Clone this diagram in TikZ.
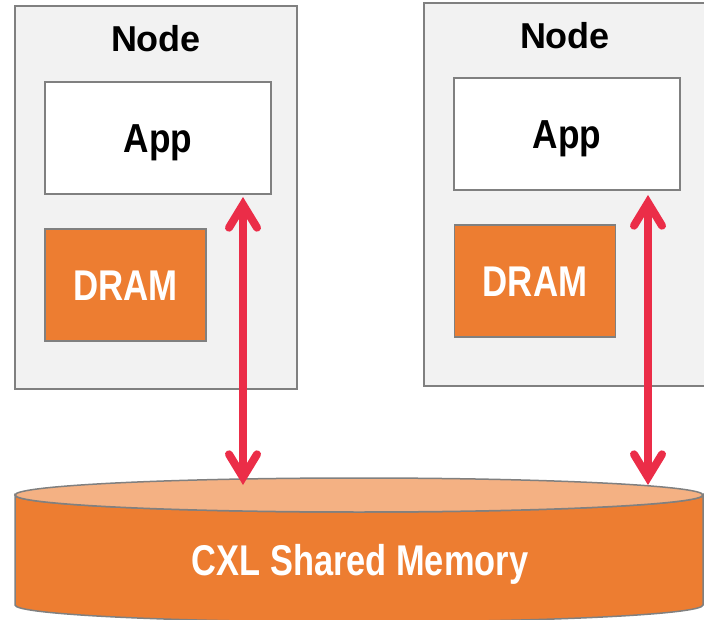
\documentclass[tikz,border=0pt]{standalone}
\usepackage{fontspec}
\setmainfont{Liberation Sans}
\usetikzlibrary{arrows.meta}
\definecolor{nodegray}{RGB}{242,242,242}
\definecolor{edgegray}{RGB}{128,128,128}
\definecolor{dramorange}{RGB}{237,125,49}
\definecolor{toporange}{RGB}{244,177,131}
\definecolor{arrowred}{RGB}{235,45,72}
\tikzset{
  hostbox/.style={draw=edgegray, fill=nodegray, line width=1.5pt, minimum width=282pt, minimum height=383pt, inner sep=0pt},
  hosttitle/.style={font=\bfseries\fontsize{36}{40}\selectfont, anchor=base, inner sep=0pt},
  appbox/.style={draw=edgegray, fill=white, line width=1.5pt, minimum width=226pt, minimum height=112pt, inner sep=0pt,
    font=\bfseries\fontsize{40.5}{44}\selectfont, text height=29pt, text depth=0pt},
  drambox/.style={draw=edgegray, fill=dramorange, line width=1.5pt, minimum width=161pt, minimum height=112pt, inner sep=0pt,
    font=\bfseries\fontsize{43}{46}\selectfont, text=white, text height=31pt, text depth=0pt},
  redtip/.tip={Straight Barb[length=23pt, width=28pt, line cap=round, line join=miter]},
  linkarrow/.style={draw=arrowred, line width=8pt, redtip-redtip},
  memlabel/.style={font=\bfseries\fontsize{43}{46}\selectfont, text=white, anchor=base, inner sep=0pt}
}
\begin{document}
\begin{tikzpicture}[x=1pt,y=-1pt]
\useasboundingbox (0,0) rectangle (704,620);
% hosts
\node[hostbox] (hostL) at (156,197.5) {};
\node[hostbox] (hostR) at (565,194.5) {};
\node[hosttitle] (titleL) at (156,52) {Node};
\node[hosttitle] (titleR) at (565,49) {Node};
\node[appbox] (appL) at (158,138) {\scalebox{0.87}[1]{App}};
\node[appbox] (appR) at (567,134) {\scalebox{0.87}[1]{App}};
\node[drambox] (dramL) at (125.5,285) {\scalebox{0.81}[1]{DRAM}};
\node[drambox] (dramR) at (535,281) {\scalebox{0.81}[1]{DRAM}};
% shared memory cylinder
\filldraw[fill=dramorange, draw=edgegray, line width=1.5pt]
  (15,495) -- (15,605) arc[start angle=180, end angle=360, x radius=344pt, y radius=17pt]
  -- (703,495) arc[start angle=0, end angle=-180, x radius=344pt, y radius=17pt] -- cycle;
\filldraw[fill=toporange, draw=edgegray, line width=1.5pt] (359,495) ellipse[x radius=344pt, y radius=17pt];
\node[memlabel] (mem) at (360,575) {\scalebox{0.80}[1]{CXL Shared Memory}};
% links
\coordinate (linkLtop) at (243,197);
\coordinate (linkLbot) at (243,485);
\coordinate (linkRtop) at (648,195);
\coordinate (linkRbot) at (648,485);
\draw[linkarrow] (linkLbot) -- (linkLtop);
\draw[linkarrow] (linkRbot) -- (linkRtop);
\end{tikzpicture}
\end{document}
